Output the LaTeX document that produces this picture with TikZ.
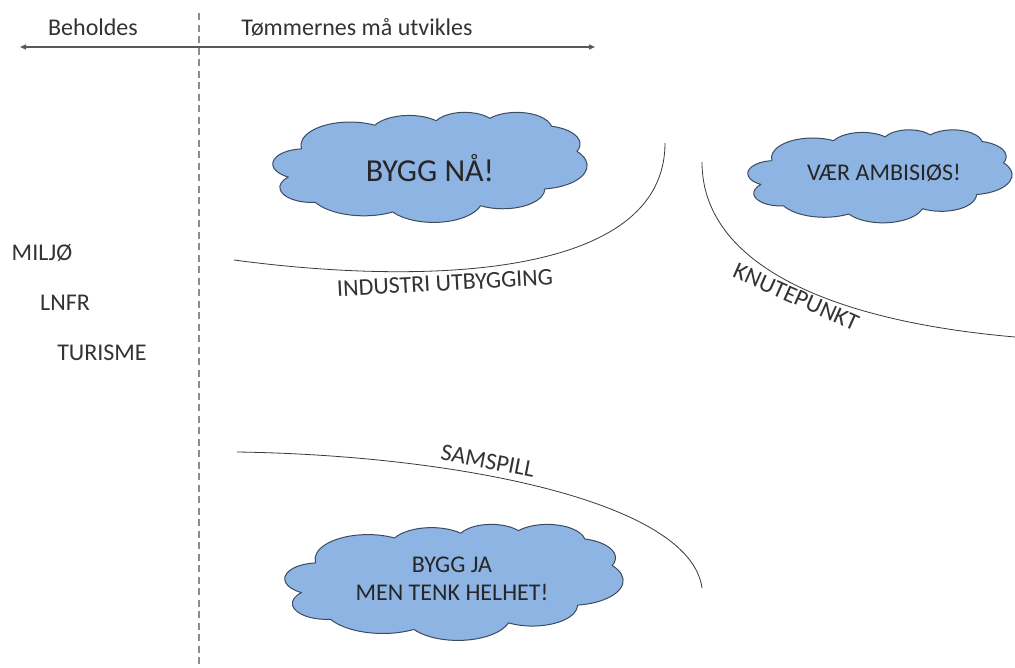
\documentclass[tikz,border=0pt]{standalone}
\usepackage{fontspec}
\setmainfont{Carlito}
\usetikzlibrary{arrows.meta}
\definecolor{cloudfill}{HTML}{8EB4E3}
\definecolor{cloudline}{HTML}{3C4B60}
\definecolor{txt}{HTML}{333333}
\definecolor{arcline}{HTML}{3A3A3A}
\tikzset{
  lbl/.style={font=\fontsize{24}{29}\selectfont, text=txt, inner sep=0pt},
  cloudtext/.style={inner sep=0pt, align=center, text=black!85, font=\fontsize{24}{28}\selectfont},
  cloudshape/.style={draw=cloudline, line width=1pt, fill=cloudfill, line join=round},
  arcpath/.style={draw=arcline, line width=0.8pt},
  divider/.style={draw=gray!90, line width=1.8pt, dash pattern=on 7pt off 4.5pt},
  axis/.style={draw=black!65, line width=1.3pt, {Triangle[length=6pt,width=5pt]}-{Triangle[length=6pt,width=5pt]}}
}
% OOXML-style arc: wR hR stAng swAng (visual angles, degrees)
\newcommand\ooarc[4]{%
  \pgfextra{%
    \pgfmathsetmacro\ooTA{atan2((#1)*sin(#3),(#2)*cos(#3))}%
    \pgfmathsetmacro\ooTB{atan2((#1)*sin((#3)+(#4)),(#2)*cos((#3)+(#4)))}%
    \pgfmathsetmacro\ooTD{mod(\ooTB-\ooTA+720,360)}%
  }
  arc[start angle=\ooTA, delta angle=\ooTD, x radius=#1, y radius=#2]}
% cloud outline in a box of given centre, width, height
\newcommand\officecloud[4]{%
  \begin{scope}[shift={(#1-#3/2,#2-#4/2)}, xscale=#3/432, yscale=#4/432]
    \path[cloudshape] (39.00,143.70)
      \ooarc{67.53}{91.90}{-190.4875}{123.7805}
      \ooarc{53.33}{72.67}{-144.1024}{89.9452}
      \ooarc{43.65}{59.45}{-145.8079}{99.7230}
      \ooarc{48.57}{65.95}{-130.9861}{117.2417}
      \ooarc{53.33}{72.73}{-78.7089}{109.0269}
      \ooarc{67.75}{92.20}{-46.2673}{130.2690}
      \ooarc{57.85}{78.67}{0.6250}{114.0333}
      \ooarc{67.52}{92.15}{22.4516}{115.1726}
      \ooarc{77.20}{105.43}{66.2426}{75.7110}
      \ooarc{43.60}{59.18}{-274.9421}{146.7356}
      \ooarc{43.45}{59.45}{-246.8285}{152.5189}
      -- cycle;
  \end{scope}}
\begin{document}
\begin{tikzpicture}[x=1pt,y=-1pt]
\useasboundingbox[fill=white] (0,0) rectangle (1015,667);
% divider and axis
\coordinate (dtop) at (199,13);
\coordinate (dbot) at (199,667);
\draw[divider] (dtop) -- (dbot);
\coordinate (aleft) at (20,47);
\coordinate (aright) at (595,47);
\draw[axis] (aleft) -- (aright);
\node[lbl] (beh) at (93,27) {Beholdes};
\node[lbl] (tom) at (357,27) {Tømmernes må utvikles};
% left labels
\node[lbl] (miljo) at (42,253) {MILJØ};
\node[lbl] (lnfr) at (65,303) {LNFR};
\node[lbl] (tur) at (102,353) {TURISME};
% clouds
\officecloud{430}{167}{314}{110}
\node[cloudtext, font=\fontsize{32}{36}\selectfont] (c1) at (430,168) {BYGG NÅ!};
\officecloud{880}{176}{264}{93}
\node[cloudtext] (c2) at (884,173) {VÆR AMBISIØS!};
\officecloud{454}{582}{338}{116}
\node[cloudtext] (c3) at (452,579) {BYGG JA\\MEN TENK HELHET!};
% arcs
\coordinate (a1s) at (234,260);
\coordinate (a1e) at (665,143);
\draw[arcpath] (a1s) .. controls (420,285) and (665,280) .. (a1e);
\coordinate (a2s) at (702,162);
\coordinate (a2e) at (1015,337);
\draw[arcpath] (a2s) .. controls (702,260) and (820,320) .. (a2e);
\coordinate (a3s) at (237,452);
\coordinate (a3e) at (702,588);
\draw[arcpath] (a3s) .. controls (450,455) and (690,500) .. (a3e);
% arc labels
\node[lbl, rotate=3] (ind) at (445,283) {INDUSTRI UTBYGGING};
\node[lbl, rotate=-11] (sam) at (488,461) {SAMSPILL};
\node[lbl, rotate=-24] (knu) at (796,297) {KNUTEPUNKT};
\end{tikzpicture}
\end{document}
